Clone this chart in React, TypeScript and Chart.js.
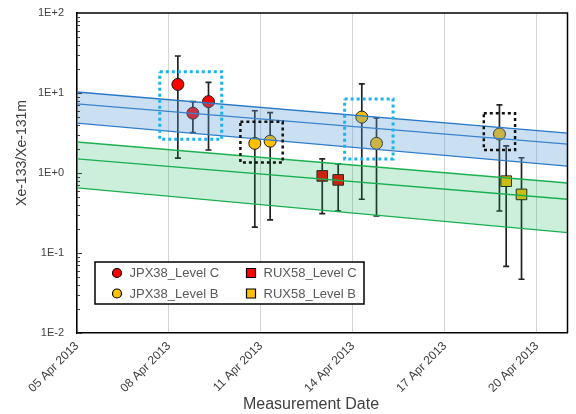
import React, { useEffect, useRef } from 'react';
import { Chart, registerables } from 'chart.js';

Chart.register(...registerables);

// ---------- axes ----------
const xMin = 0; // day 0 = 05 Apr 2013
const xMax = 16;
const xTickValues = [0, 3, 6, 9, 12, 15];
const xTickLabels = ['05 Apr 2013', '08 Apr 2013', '11 Apr 2013', '14 Apr 2013', '17 Apr 2013', '20 Apr 2013'];
const yTickValues = [0.01, 0.1, 1, 10, 100];
const yTickLabels = ['1E-2', '1E-1', '1E+0', '1E+1', '1E+2'];
const xTitle = 'Measurement Date';
const yTitle = 'Xe-133/Xe-131m';

// ---------- measured series ----------
const jpxCLabel = 'JPX38_Level C';
const jpxCX = [3.29, 3.78, 4.29];
const jpxCY = [12.8, 5.6, 7.8];
const jpxCHi = [29, 7.8, 13.6];
const jpxCLo = [1.53, 3.2, 1.94];

const jpxBLabel = 'JPX38_Level B';
const jpxBX = [5.8, 6.3, 9.29, 9.77, 13.78];
const jpxBY = [2.35, 2.5, 5.0, 2.35, 3.07];
const jpxBHi = [6.0, 5.7, 13.0, 4.9, 7.1];
const jpxBLo = [0.21, 0.26, 0.47, 0.29, 0.335];

const ruxCLabel = 'RUX58_Level C';
const ruxCX = [8.0, 8.52];
const ruxCY = [0.92, 0.82];
const ruxCHi = [1.5, 1.3];
const ruxCLo = [0.31, 0.335];

const ruxBLabel = 'RUX58_Level B';
const ruxBX = [14.0, 14.5];
const ruxBY = [0.79, 0.54];
const ruxBHi = [2.18, 1.55];
const ruxBLo = [0.068, 0.047];

// ---------- decay bands (values at day 0 and day 16) ----------
const bandX = [0, 16];
const blueUpper = [10.3, 3.16];
const blueCenter = [7.3, 2.3];
const blueLower = [4.2, 1.22];
const greenUpper = [2.44, 0.75];
const greenCenter = [1.5, 0.47];
const greenLower = [0.65, 0.18];

// ---------- highlight boxes ----------
const boxX0 = [2.7, 5.33, 8.73, 13.27];
const boxX1 = [4.72, 6.71, 10.31, 14.29];
const boxYTop = [18.5, 4.38, 8.4, 5.57];
const boxYBottom = [2.64, 1.35, 1.5, 1.94];
const boxKind = ['blue', 'black', 'blue', 'black'];

const RED = '#ff0000';
const YELLOW = '#ffc000';
const FONT = "'Liberation Sans', Arial, sans-serif";

type Series = { label: string; xs: number[]; ys: number[]; hi: number[]; lo: number[]; color: string; style: 'circle' | 'rect' };
const series: Series[] = [
  { label: jpxCLabel, xs: jpxCX, ys: jpxCY, hi: jpxCHi, lo: jpxCLo, color: RED, style: 'circle' },
  { label: jpxBLabel, xs: jpxBX, ys: jpxBY, hi: jpxBHi, lo: jpxBLo, color: YELLOW, style: 'circle' },
  { label: ruxCLabel, xs: ruxCX, ys: ruxCY, hi: ruxCHi, lo: ruxCLo, color: RED, style: 'rect' },
  { label: ruxBLabel, xs: ruxBX, ys: ruxBY, hi: ruxBHi, lo: ruxBLo, color: YELLOW, style: 'rect' },
];

const pts = (xs: number[], ys: number[]) => xs.map((x, i) => ({ x, y: ys[i] }));

const errorBarPlugin = {
  id: 'errorBars',
  beforeDatasetsDraw(chart: any) {
    const { ctx, chartArea, scales } = chart;
    const xs = scales.x, ys = scales.y;
    ctx.save();
    ctx.beginPath();
    ctx.rect(chartArea.left, chartArea.top, chartArea.right - chartArea.left, chartArea.bottom - chartArea.top);
    ctx.clip();
    ctx.strokeStyle = '#222222';
    ctx.lineWidth = 1.7;
    series.forEach((s) => {
      s.xs.forEach((xv, i) => {
        const px = xs.getPixelForValue(xv);
        const pHi = ys.getPixelForValue(s.hi[i]);
        const pLo = ys.getPixelForValue(s.lo[i]);
        ctx.beginPath();
        ctx.moveTo(px, pHi);
        ctx.lineTo(px, pLo);
        ctx.moveTo(px - 3, pHi);
        ctx.lineTo(px + 3, pHi);
        ctx.moveTo(px - 3, pLo);
        ctx.lineTo(px + 3, pLo);
        ctx.stroke();
      });
    });
    ctx.restore();
  },
};

const framePlugin = {
  id: 'frame',
  afterDraw(chart: any) {
    const { ctx, chartArea, scales } = chart;
    ctx.save();
    // minor log ticks inside the plot
    ctx.strokeStyle = '#404040';
    ctx.lineWidth = 1;
    for (let e = -2; e < 2; e++) {
      for (let m = 1; m <= 9; m++) {
        const py = Math.round(scales.y.getPixelForValue(m * Math.pow(10, e))) + 0.5;
        ctx.beginPath();
        ctx.moveTo(chartArea.left, py);
        ctx.lineTo(chartArea.left + (m === 1 ? 5 : 3), py);
        ctx.stroke();
      }
    }
    ctx.strokeStyle = '#000';
    ctx.lineWidth = 1.5;
    ctx.beginPath();
    ctx.moveTo(chartArea.left, chartArea.top);
    ctx.lineTo(chartArea.right, chartArea.top);
    ctx.lineTo(chartArea.right, chartArea.bottom);
    ctx.stroke();

    // axis titles
    ctx.fillStyle = '#404040';
    ctx.textAlign = 'center';
    ctx.textBaseline = 'middle';
    ctx.font = `16px ${FONT}`;
    ctx.fillText(xTitle, 311, 405);
    ctx.save();
    ctx.translate(22, 153);
    ctx.rotate(-Math.PI / 2);
    ctx.font = `14px ${FONT}`;
    ctx.fillText(yTitle, 0, 0);
    ctx.restore();

    // legend
    const left = chartArea.left + 18;
    const top = 262;
    const w = 269;
    const h = 42;
    ctx.fillStyle = '#fff';
    ctx.fillRect(left, top, w, h);
    ctx.strokeStyle = '#000';
    ctx.lineWidth = 1.5;
    ctx.strokeRect(left, top, w, h);
    const cols = [left + 22, left + 156];
    const rows = [top + 11, top + 31.5];
    const order = [0, 2, 1, 3];
    order.forEach((si, k) => {
      const s = series[si];
      const cx = cols[k % 2];
      const cy = rows[Math.floor(k / 2)];
      ctx.fillStyle = s.color;
      ctx.strokeStyle = '#000';
      ctx.lineWidth = 1.2;
      ctx.beginPath();
      if (s.style === 'circle') ctx.arc(cx, cy, 4.5, 0, Math.PI * 2);
      else ctx.rect(cx - 4.5, cy - 4.5, 9, 9);
      ctx.fill();
      ctx.stroke();
      ctx.fillStyle = '#595959';
      ctx.font = `13px ${FONT}`;
      ctx.textAlign = 'left';
      ctx.textBaseline = 'middle';
      ctx.fillText(s.label, cx + 12.5, cy + 0.5);
    });
    ctx.restore();
  },
};

export default function App() {
  const ref = useRef<HTMLCanvasElement | null>(null);
  useEffect(() => {
    if (!ref.current) return;
    const markerSets = series.map((s) => ({
      type: 'line' as const,
      label: s.label,
      data: pts(s.xs, s.ys),
      showLine: false,
      pointStyle: s.style,
      pointRadius: s.style === 'circle' ? 6 : 7.5,
      pointBackgroundColor: s.color,
      pointBorderColor: '#1a1a1a',
      pointBorderWidth: 1,
      order: 3,
    }));
    const BLUE_LINE = '#2878c8';
    const GREEN_LINE = '#1db04e';
    const bandLine = (data: number[], color: string, fill: any, bg: string) => ({
      type: 'line' as const,
      label: '',
      data: pts(bandX, data),
      borderColor: color,
      borderWidth: 1.3,
      pointRadius: 0,
      fill,
      backgroundColor: bg,
      order: 2,
    });
    const bandSets = [
      bandLine(blueUpper, BLUE_LINE, '+2', 'rgba(91,155,213,0.32)'),
      bandLine(blueCenter, BLUE_LINE, false, 'transparent'),
      bandLine(blueLower, BLUE_LINE, false, 'transparent'),
      bandLine(greenUpper, GREEN_LINE, '+2', 'rgba(0,176,80,0.2)'),
      bandLine(greenCenter, GREEN_LINE, false, 'transparent'),
      bandLine(greenLower, GREEN_LINE, false, 'transparent'),
    ];
    const boxSets = boxX0.map((x0, i) => ({
      type: 'line' as const,
      label: '',
      data: [
        { x: x0, y: boxYTop[i] },
        { x: boxX1[i], y: boxYTop[i] },
        { x: boxX1[i], y: boxYBottom[i] },
        { x: x0, y: boxYBottom[i] },
        { x: x0, y: boxYTop[i] },
      ],
      borderColor: boxKind[i] === 'blue' ? '#1ab2f0' : '#111111',
      borderWidth: boxKind[i] === 'blue' ? 3 : 2.5,
      borderDash: [3, 3],
      pointRadius: 0,
      fill: false,
      order: 1,
    }));

    const chart = new Chart(ref.current, {
      type: 'line',
      data: { datasets: [...markerSets, ...bandSets, ...boxSets] as any },
      options: {
        animation: false,
        responsive: true,
        maintainAspectRatio: false,
        layout: { padding: { top: 13, right: 3, left: 0, bottom: 0 } },
        plugins: { legend: { display: false }, tooltip: { enabled: false } },
        elements: { line: { tension: 0 } },
        scales: {
          x: {
            type: 'linear',
            min: xMin,
            max: xMax,
            afterBuildTicks: (scale: any) => {
              scale.ticks = xTickValues.map((v) => ({ value: v }));
            },
            afterFit: (scale: any) => {
              scale.height = 81;
              scale.paddingLeft = 0;
              scale.paddingRight = 0;
            },
            ticks: {
              autoSkip: false,
              minRotation: 45,
              maxRotation: 45,
              padding: 6,
              color: '#404040',
              font: { family: FONT, size: 12 },
              callback: (v: any) => {
                const i = xTickValues.indexOf(Number(v));
                return i >= 0 ? xTickLabels[i] : '';
              },
            },
            grid: { color: '#d4d4d4', lineWidth: 1, drawTicks: false },
            border: { display: true, color: '#000', width: 1.5 },
          },
          y: {
            type: 'logarithmic',
            min: 0.01,
            max: 100,
            afterBuildTicks: (scale: any) => {
              scale.ticks = yTickValues.map((v) => ({ value: v, major: true }));
            },
            afterFit: (scale: any) => {
              scale.width = 77;
              scale.paddingTop = 0;
              scale.paddingBottom = 0;
            },
            ticks: {
              autoSkip: false,
              padding: 13,
              color: '#404040',
              font: { family: FONT, size: 11 },
              callback: (v: any) => {
                const i = yTickValues.findIndex((t) => Math.abs(t - Number(v)) / t < 1e-6);
                return i >= 0 ? yTickLabels[i] : '';
              },
            },
            grid: { display: false, drawTicks: false },
            border: { display: true, color: '#000', width: 1.5 },
          },
        },
      },
      plugins: [errorBarPlugin, framePlugin],
    });
    return () => chart.destroy();
  }, []);

  return (
    <div style={{ position: 'fixed', left: 0, top: 0, width: 576, height: 414, background: '#fff' }}>
      <canvas ref={ref} />
    </div>
  );
}
